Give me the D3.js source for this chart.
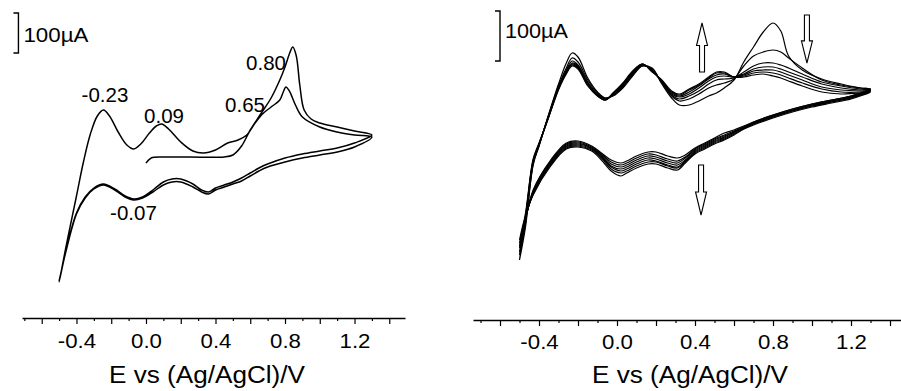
<!DOCTYPE html>
<html><head><meta charset="utf-8">
<script src="https://cdn.jsdelivr.net/npm/d3@7"></script>
<style>
body{margin:0;background:#fff}
svg{display:block}
text{font-family:"Liberation Sans",Arial,sans-serif;fill:#000}
</style>
</head><body>
<svg id="c" width="901" height="391"></svg>
<script>
// ---------------- DATA ----------------
// Potential in V vs Ag/AgCl, current in µA (arbitrary zero; no current axis in the figure)
// Left panel
const leftAn1E = [0.0,0.03,0.1,0.25,0.45,0.5,0.55,0.6,0.66,0.72,0.77,0.8,0.825,0.845,0.865,0.885,0.91,0.95,1.0,1.1,1.2,1.3];
const leftAn1I = [92.5,105,107.5,107.5,107.5,112.5,135,175,215,255,300,332.5,365,382.5,360,287.5,225,202.5,192.5,182.5,172.5,162.5];
const leftAn2E = [-0.5,-0.45,-0.4,-0.36,-0.32,-0.28,-0.245,-0.21,-0.16,-0.11,-0.07,-0.03,0.02,0.06,0.09,0.13,0.2,0.27,0.33,0.4,0.47,0.53,0.58,0.62,0.67,0.72,0.77,0.79,0.805,0.825,0.86,0.9,1.0,1.1,1.2,1.3];
const leftAn2I = [-205,-95,10,95,165,210,225,210,170,137.5,127.5,140,167.5,185,190,177.5,145,122.5,117.5,125,142.5,150,162.5,187.5,215,232.5,250,270,282.5,272.5,237.5,207.5,182.5,170,162.5,157.5];
const leftCatE = [1.3,1.2,1.1,1.0,0.9,0.8,0.7,0.65,0.6,0.55,0.5,0.45,0.4,0.36,0.32,0.27,0.2,0.15,0.1,0.04,-0.02,-0.07,-0.12,-0.18,-0.245,-0.3,-0.35,-0.4,-0.45,-0.5];
const leftCat1I = [162.5,142.5,130,122.5,115,105,90,80,67.5,55,45,37.5,30,20,25,40,52.5,52.5,45,25,7.5,2.5,10,27.5,40,30,7.5,-32.5,-107.5,-205];
const leftCat2I = [157.5,132.5,120,112.5,105,95,82.5,72.5,60,47.5,40,32.5,25,15,20,32.5,45,45,37.5,20,5,0,7.5,25,37.5,27.5,5,-35,-110,-202.5];
const leftPeakLabels = ["-0.23","0.09","0.65","0.80","-0.07"];
const leftPeakLabelE = [-0.236,0.104,0.57,0.691,-0.072];
const leftPeakLabelI = [245,192.5,220,325,-50];

// Right panel: 7 successive cycles
const rightAnE = [-0.5,-0.47,-0.43,-0.4,-0.35,-0.3,-0.26,-0.23,-0.2,-0.15,-0.1,-0.06,-0.02,0.03,0.08,0.13,0.18,0.23,0.28,0.32,0.37,0.42,0.47,0.51,0.55,0.6,0.65,0.7,0.75,0.8,0.84,0.88,0.95,1.05,1.15,1.25,1.3];
const rightAnI = [
 [-220,-156,-30,8,72,132,174,194,186,144,116,104,108,124,148,168,164,132,104,90,90,98,108,114,124,140,176,206,236,254,238,188,160,142,132,124,122],
 [-210,-150,-28,8,70,128,164,184,176,140,114,104,110,126,150,168,162,134,108,98,102,112,124,130,134,142,168,188,196,200,196,184,164,140,130,124,122],
 [-204,-144,-26,10,70,126,160,178,170,136,112,102,110,128,152,170,160,136,110,102,108,118,132,140,142,144,156,168,174,174,170,164,152,136,128,122,120],
 [-196,-140,-24,10,68,124,158,174,168,134,110,102,112,130,154,170,160,136,112,106,112,124,138,146,148,146,152,162,166,166,162,156,146,132,124,120,120],
 [-192,-136,-22,12,68,124,156,172,166,132,110,100,112,132,156,172,158,138,114,108,116,128,142,150,152,146,150,158,160,160,156,150,140,126,120,118,118],
 [-186,-132,-20,12,66,122,154,170,164,130,108,100,114,132,156,172,158,138,116,110,120,130,144,154,154,146,148,154,156,154,150,144,134,122,116,116,118],
 [-180,-128,-18,14,66,120,152,168,162,128,108,100,114,134,158,172,156,140,118,112,122,132,146,156,156,146,146,150,152,148,144,138,128,116,112,114,116]
];
const rightCatE = [1.3,1.2,1.1,1.0,0.9,0.8,0.7,0.65,0.6,0.55,0.5,0.45,0.4,0.35,0.31,0.26,0.2,0.16,0.1,0.05,0.02,-0.03,-0.08,-0.13,-0.2,-0.26,-0.34,-0.43,-0.47,-0.5];
const rightCatI = [
 [122,108,100,92,82,70,56,48,40,34,24,14,4,-10,-16,-12,-4,-4,-12,-22,-26,-20,-6,8,18,14,-20,-80,-144,-220],
 [122,108,100,92,82,70,56,46,38,30,22,12,2,-14,-22,-18,-10,-8,-16,-26,-30,-24,-8,6,16,12,-22,-82,-142,-210],
 [120,106,98,90,80,68,54,46,36,28,20,10,0,-16,-26,-22,-14,-12,-20,-30,-34,-28,-10,4,14,10,-24,-84,-140,-204],
 [120,106,98,90,80,68,54,44,36,26,18,8,-2,-20,-30,-26,-18,-16,-24,-34,-38,-32,-12,4,12,8,-26,-86,-138,-196],
 [118,104,96,88,78,66,52,44,34,24,16,6,-4,-22,-34,-30,-22,-20,-28,-38,-42,-34,-14,2,10,6,-28,-88,-136,-192],
 [118,104,96,88,78,66,52,42,32,22,14,4,-6,-24,-36,-32,-24,-24,-32,-42,-46,-38,-16,0,8,4,-30,-88,-134,-186],
 [116,102,94,86,76,64,50,42,30,20,12,2,-8,-26,-40,-36,-28,-28,-36,-46,-52,-42,-20,-2,6,2,-32,-90,-132,-180]
];
// Arrows (E, start current, end current): direction of change with cycling
const rightArrowE = [0.436, 0.974, 0.431];
const rightArrowFromI = [156, 270, -30];
const rightArrowToI = [254, 174, -130];

// Axis ticks
const majorTicks = [-0.6,-0.4,-0.2,0.0,0.2,0.4,0.6,0.8,1.0,1.2,1.4];
const minorTicks = [-0.7,-0.5,-0.3,-0.1,0.1,0.3,0.5,0.7,0.9,1.1,1.3];
const labeledTicks = [-0.4,0.0,0.4,0.8,1.2];
const xTitle = "E vs (Ag/AgCl)/V";
const scaleBarLabel = "100\u00B5A";
const scaleBarValue = 100;

// ---------------- DRAW ----------------
const svg = d3.select("#c");

function zip(E, I){ return E.map((e,i)=>[e, I[i]]); }

function drawPanel(o){
  const g = svg.append("g");
  const x = d3.scaleLinear().domain(o.xDomain).range(o.xRange);
  const y = d3.scaleLinear().domain(o.yDomain).range(o.yRange);
  const line = d3.line().x(d=>x(d[0])).y(d=>y(d[1])).curve(d3.curveCatmullRom.alpha(0.5));

  o.paths.forEach(p=>{
    g.append("path").attr("d", line(p)).attr("fill","none")
      .attr("stroke","#000").attr("stroke-width", o.lw).attr("stroke-linejoin","round");
  });

  // axis
  const ax = g.append("g").attr("transform",`translate(0,${o.axisY})`);
  ax.call(d3.axisBottom(x).tickValues(majorTicks).tickSize(6).tickSizeOuter(0)
      .tickFormat(d => labeledTicks.some(v=>Math.abs(v-d)<1e-9) ? d.toFixed(1) : ""));
  ax.append("g").call(d3.axisBottom(x).tickValues(minorTicks).tickSize(3).tickSizeOuter(0).tickFormat(""))
    .select(".domain").remove();
  ax.selectAll(".domain").attr("stroke","#000").attr("stroke-width",1.4);
  ax.selectAll(".tick line").attr("stroke","#000").attr("stroke-width",1.2);
  ax.selectAll(".tick text").attr("font-size",21).attr("font-family","Liberation Sans, Arial, sans-serif")
    .attr("y", 0).attr("dy", null).attr("transform", `translate(0,${o.tickLabelY}) scale(1.06,1)`);

  g.append("text").attr("x", o.titleX).attr("y", o.titleY).attr("text-anchor","middle")
    .attr("font-size",23).attr("textLength",196).attr("lengthAdjust","spacingAndGlyphs").text(xTitle);

  // scale bar
  const sbx = x(o.sbE), sy0 = y(o.sbI), sy1 = y(o.sbI + scaleBarValue);
  g.append("path").attr("d",`M${sbx-5},${sy1}H${sbx}V${sy0}H${sbx-5}`)
    .attr("fill","none").attr("stroke","#000").attr("stroke-width",1.4);
  g.append("text").attr("x", sbx+5).attr("y", o.sbTextY).attr("font-size",21)
    .attr("textLength", o.sbTextW).attr("lengthAdjust","spacingAndGlyphs").text(scaleBarLabel);
  return {g,x,y};
}

// Left
const L = drawPanel({
  xDomain:[-0.7135,1.4905], xRange:[22,405],
  yDomain:[-300,500], yRange:[320,0],
  axisY:318, tickLabelY:30, titleX:207, titleY:383,
  sbE:-0.734, sbI:367.5, sbTextY:42, sbTextW:65, lw:1.5,
  paths:[ zip(leftAn1E,leftAn1I).concat(zip(leftCatE,leftCat1I).slice(1))
            .concat(zip(leftAn2E,leftAn2I).slice(1)).concat(zip(leftCatE,leftCat2I).slice(1)) ]
});
leftPeakLabels.forEach((t,i)=>{
  L.g.append("text").attr("x",L.x(leftPeakLabelE[i])).attr("y",L.y(leftPeakLabelI[i]))
    .attr("text-anchor","middle").attr("font-size",20.5).text(t);
});

// Right
const R = drawPanel({
  xDomain:[-0.7385,1.4564], xRange:[473,901],
  yDomain:[-300,300], yRange:[300,0],
  axisY:320, tickLabelY:29, titleX:690, titleY:383,
  sbE:-0.6, sbI:178, sbTextY:38, sbTextW:63, lw:1.2,
  paths: rightAnI.map((an,c)=> zip(rightAnE,an).concat(zip(rightCatE,rightCatI[c]).slice(1)))
});
rightArrowE.forEach((e,i)=>{
  const cx = R.x(e), y0 = R.y(rightArrowFromI[i]), y1 = R.y(rightArrowToI[i]);
  const dir = Math.sign(y1 - y0), len = Math.abs(y1-y0), head = len*0.46;
  const hw = 5.5, sw = 2.5, yh = y1 - dir*head;
  const pts = [[cx-sw,y0],[cx+sw,y0],[cx+sw,yh],[cx+hw,yh],[cx,y1],[cx-hw,yh],[cx-sw,yh]];
  R.g.append("path").attr("d","M"+pts.map(p=>p.join(",")).join("L")+"Z")
    .attr("fill","#fff").attr("stroke","#000").attr("stroke-width",1.1);
});
</script>
</body></html>
